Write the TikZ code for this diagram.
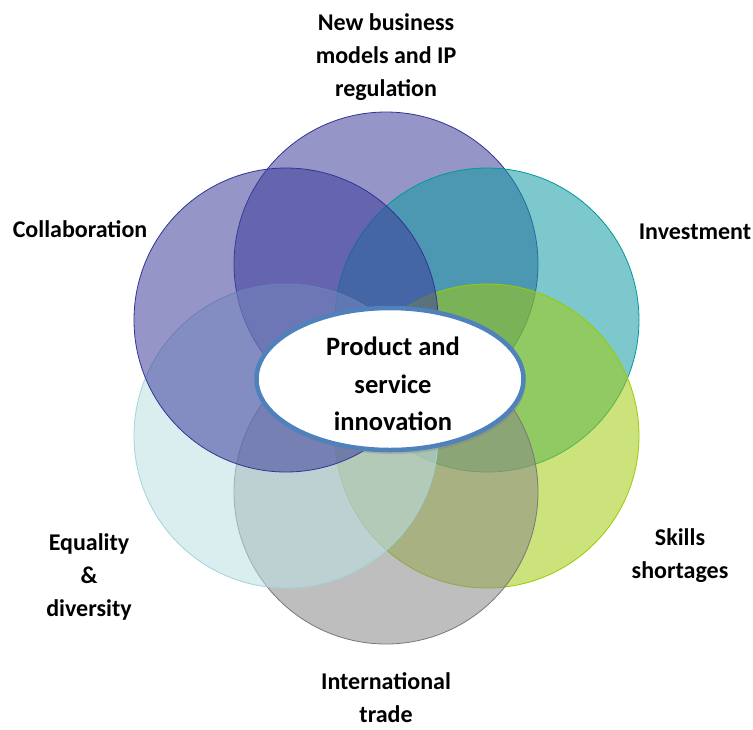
\documentclass[tikz,border=0pt]{standalone}
\usepackage{fontspec}
\setmainfont{Carlito}
\usetikzlibrary{shapes.geometric,shadows}
\definecolor{bizpurple}{RGB}{62,62,155}
\definecolor{bizline}{RGB}{51,51,153}
\definecolor{invteal}{RGB}{17,155,162}
\definecolor{invline}{RGB}{0,153,153}
\definecolor{skilllime}{RGB}{162,202,13}
\definecolor{skillline}{RGB}{153,204,0}
\definecolor{tradegray}{RGB}{137,137,137}
\definecolor{tradeline}{RGB}{120,120,120}
\definecolor{eqcyan}{RGB}{188,224,228}
\definecolor{eqline}{RGB}{160,212,218}
\definecolor{hubblue}{RGB}{79,129,189}

\begin{document}
\begin{tikzpicture}[x=1pt,y=-1pt,
        ring/.style={circle,minimum size=304pt,inner sep=0pt,fill opacity=0.55,line width=0.8pt},
        topic/.style={font=\bfseries\fontsize{24}{33}\selectfont,align=center,text=black},
        ]
        \useasboundingbox (0,0) rectangle (753,729);
        % six overlapping rings, clockwise from the top
        \node[ring,fill=bizpurple,draw=bizline] (business) at (386,264) {};
        \node[ring,fill=invteal,draw=invline] (invest) at (487,320) {};
        \node[ring,fill=skilllime,draw=skillline] (skills) at (487,436) {};
        \node[ring,fill=tradegray,draw=tradeline] (trade) at (386,492) {};
        \node[ring,fill=eqcyan,draw=eqline] (equality) at (286,436) {};
        \node[ring,fill=bizpurple,draw=bizline] (collab) at (286,320) {};
        % hub
        \node[ellipse,minimum width=267pt,minimum height=142pt,inner sep=0pt,fill=white,
              draw=hubblue,line width=4.5pt,
              drop shadow={shadow xshift=2pt,shadow yshift=-4pt,opacity=0.35}] (hub) at (390,379) {};
        \node[font=\bfseries\fontsize{26.5}{37.5}\selectfont,align=center] (hubtext)
              at ([xshift=3pt,yshift=-5pt]hub.center) {Product and\\service\\innovation};
        % labels
        \node[topic] (businesstext) at (386,57) {New business\\models and IP\\regulation};
        \node[topic] (collabtext) at (80,229) {Collaboration};
        \node[topic] (investtext) at (695,232) {Investment};
        \node[topic] (skillstext) at (680,556) {Skills\\shortages};
        \node[topic] (tradetext) at (386,698) {International\\trade};
        \node[topic] (equalitytext) at (89,577) {Equality\\\&\\diversity};
      \end{tikzpicture}
\end{document}
